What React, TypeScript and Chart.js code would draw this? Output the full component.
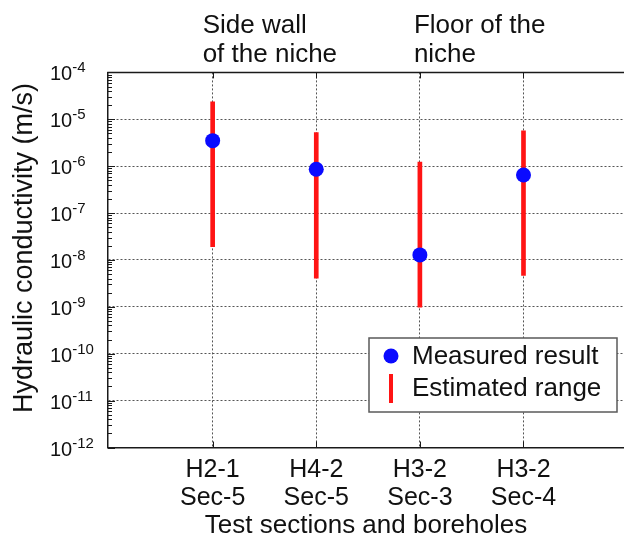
import React, { useEffect, useRef } from "react";
import { Chart, registerables } from "chart.js";

Chart.register(...registerables);

// Test sections (two-line category labels) and their positions on the x axis
const sections = [
  ["H2-1", "Sec-5"],
  ["H4-2", "Sec-5"],
  ["H3-2", "Sec-3"],
  ["H3-2", "Sec-4"],
];
const positions = [1, 2, 3, 4];

// Hydraulic conductivity (m/s)
const measured = [3.5e-6, 8.6e-7, 1.28e-8, 6.5e-7];
const rangeLow = [1.92e-8, 4.07e-9, 9.8e-10, 4.7e-9];
const rangeHigh = [2.37e-5, 5.2e-6, 1.23e-6, 5.7e-6];

// Decades shown on the log axis
const decadeExponents = [-12, -11, -10, -9, -8, -7, -6, -5, -4];

// Location notes written above the plot
const noteAnchors = [1, 3];
const noteLines = [
  ["Side wall", "of the niche"],
  ["Floor of the", "niche"],
];

const legendLabels = ["Measured result", "Estimated range"];
const yTitle = "Hydraulic conductivity (m/s)";
const xTitle = "Test sections and boreholes";

const FONT = '"Liberation Sans", Arial, Helvetica, sans-serif';
const BLUE = "rgb(10,10,255)";
const RED = "rgb(255,20,20)";
const FRAME = "#1a1a1a";
const GRID = "#555555";
const TEXT = "#111111";

const decorPlugin = {
  id: "decor",
  afterDraw(chart: any) {
    const { ctx, chartArea: a, scales } = chart;
    const xs = scales.x;
    const ys = scales.y;
    ctx.save();

    // top edge of the frame
    ctx.strokeStyle = FRAME;
    ctx.lineWidth = 1.5;
    ctx.beginPath();
    ctx.moveTo(a.left - 0.75, a.top);
    ctx.lineTo(a.right, a.top);
    ctx.stroke();

    // inward minor and major ticks on the log axis
    ctx.lineWidth = 1;
    for (let e = -12; e < -4; e++) {
      for (let k = 2; k <= 9; k++) {
        const y = Math.round(ys.getPixelForValue(k * Math.pow(10, e))) + 0.5;
        ctx.beginPath();
        ctx.moveTo(a.left, y);
        ctx.lineTo(a.left + 4, y);
        ctx.stroke();
      }
    }
    decadeExponents.forEach((e) => {
      const y = Math.round(ys.getPixelForValue(Math.pow(10, e))) + 0.5;
      ctx.beginPath();
      ctx.moveTo(a.left, y);
      ctx.lineTo(a.left + 7, y);
      ctx.stroke();
    });

    // inward ticks at the categories, bottom and top
    positions.forEach((p) => {
      const x = Math.round(xs.getPixelForValue(p)) + 0.5;
      ctx.beginPath();
      ctx.moveTo(x, a.bottom);
      ctx.lineTo(x, a.bottom - 6);
      ctx.moveTo(x, a.top);
      ctx.lineTo(x, a.top + 6);
      ctx.stroke();
    });

    // decade labels with superscript exponents
    ctx.fillStyle = TEXT;
    ctx.textAlign = "left";
    ctx.textBaseline = "alphabetic";
    decadeExponents.forEach((e) => {
      const y = ys.getPixelForValue(Math.pow(10, e));
      ctx.font = `20px ${FONT}`;
      ctx.fillText("10", 50, y + 8);
      const w = ctx.measureText("10").width;
      ctx.font = `15px ${FONT}`;
      ctx.fillText(String(e), 50 + w, y);
    });

    // y axis title
    ctx.save();
    ctx.translate(25, 248);
    ctx.rotate(-Math.PI / 2);
    ctx.font = `27px ${FONT}`;
    ctx.textAlign = "center";
    ctx.textBaseline = "middle";
    ctx.fillText(yTitle, 0, 0);
    ctx.restore();

    // notes above the plot
    ctx.font = `26px ${FONT}`;
    ctx.textAlign = "left";
    ctx.textBaseline = "alphabetic";
    noteAnchors.forEach((p, i) => {
      const x = xs.getPixelForValue(p) - (i === 0 ? 10 : 6);
      noteLines[i].forEach((line, j) => {
        ctx.fillText(line, x, 33 + j * 28.5);
      });
    });

    // legend box
    const lx = 369;
    const ly = 338;
    const lw = 248;
    const lh = 74;
    ctx.fillStyle = "#ffffff";
    ctx.fillRect(lx, ly, lw, lh);
    ctx.strokeStyle = "#5a5a5a";
    ctx.lineWidth = 1.5;
    ctx.strokeRect(lx, ly, lw, lh);

    const ds = chart.data.datasets;
    ctx.fillStyle = ds[0].backgroundColor;
    ctx.beginPath();
    ctx.arc(391, 356, 7.5, 0, Math.PI * 2);
    ctx.fill();
    ctx.fillStyle = ds[1].backgroundColor;
    ctx.fillRect(389, 374, 4, 29);

    ctx.fillStyle = TEXT;
    ctx.font = `26px ${FONT}`;
    ctx.textBaseline = "middle";
    ctx.fillText(ds[0].label, 412, 357);
    ctx.fillText(ds[1].label, 412, 389);

    ctx.restore();
  },
};

export default function App() {
  const canvasRef = useRef<HTMLCanvasElement | null>(null);

  useEffect(() => {
    if (!canvasRef.current) return;
    const chart = new Chart(canvasRef.current, {
      type: "bar",
      data: {
        datasets: [
          {
            type: "scatter",
            label: legendLabels[0],
            data: positions.map((x, i) => ({ x, y: measured[i] })),
            backgroundColor: BLUE,
            borderColor: BLUE,
            pointRadius: 7.5,
            borderWidth: 0,
            order: 0,
          } as any,
          {
            type: "bar",
            label: legendLabels[1],
            data: positions.map((x, i) => ({ x, y: [rangeLow[i], rangeHigh[i]] })),
            backgroundColor: RED,
            borderWidth: 0,
            barThickness: 4,
            order: 1,
          } as any,
        ],
      },
      options: {
        animation: false,
        responsive: true,
        maintainAspectRatio: false,
        layout: { autoPadding: false, padding: { left: 108, top: 72.4, right: 0, bottom: 0 } },
        plugins: {
          legend: { display: false },
          tooltip: { enabled: false },
        },
        scales: {
          x: {
            type: "linear",
            offset: false,
            min: -0.01,
            max: 4.97,
            afterBuildTicks: (s: any) => {
              s.ticks = positions.map((v) => ({ value: v }));
            },
            afterFit: (s: any) => {
              s.height = 95.5;
              s.paddingLeft = 0;
              s.paddingRight = 0;
            },
            grid: { color: GRID, lineWidth: 1, drawTicks: false, offset: false },
            border: { display: true, color: FRAME, width: 1.5, dash: [2, 2] },
            ticks: {
              autoSkip: false,
              maxRotation: 0,
              padding: 8.5,
              color: TEXT,
              font: { family: FONT, size: 25, lineHeight: 28 / 25 },
              callback: (v: any) => sections[positions.indexOf(Number(v))] ?? "",
            },
            title: {
              display: true,
              text: xTitle,
              color: TEXT,
              font: { family: FONT, size: 26 },
              padding: { top: 0, bottom: 1.5 },
            },
          },
          y: {
            type: "logarithmic",
            min: 1e-12,
            max: 1e-4,
            afterBuildTicks: (s: any) => {
              s.ticks = decadeExponents.map((e) => ({ value: Math.pow(10, e) }));
            },
            afterFit: (s: any) => {
              s.width = 0;
            },
            ticks: { display: false },
            grid: { color: GRID, lineWidth: 1, drawTicks: false },
            border: { display: true, color: FRAME, width: 1.5, dash: [2, 2] },
          },
        },
      } as any,
      plugins: [decorPlugin],
    });
    return () => chart.destroy();
  }, []);

  return (
    <div style={{ position: "fixed", left: 0, top: 0, width: 624, height: 543, background: "#fff" }}>
      <canvas ref={canvasRef} />
    </div>
  );
}
